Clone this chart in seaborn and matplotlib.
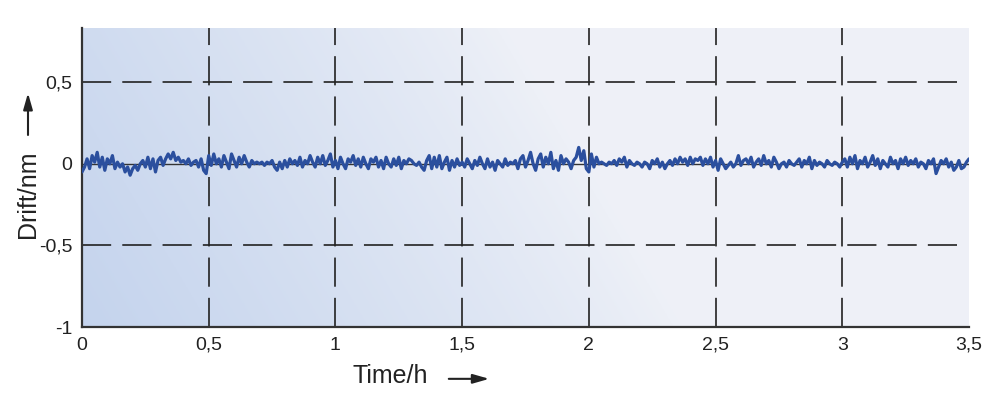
import numpy as np
import pandas as pd
import matplotlib
matplotlib.use('Agg')
import matplotlib.pyplot as plt
from matplotlib.ticker import MultipleLocator, FuncFormatter
import seaborn as sns

# Drift measurement, one reading every 0.01 h from 0 to 3.5 h (values in nm)
t_start = 0.0
t_end = 3.5

drift_0 = [-0.05, -0.02, 0.03, -0.03, 0.05, 0.01, 0.07, -0.02, 0.04, -0.04,
           0.03, 0.00, 0.05, -0.03, 0.01, -0.02, 0.00, -0.05, -0.02, -0.07,
           -0.03, -0.01, -0.04, 0.00, 0.02, -0.02, 0.04, -0.03, 0.03, -0.05,
           0.02, 0.04, -0.01, 0.03, 0.06, 0.03, 0.07, 0.02, 0.04, 0.01,
           0.02, 0.00, 0.03, -0.01, 0.01, 0.02, -0.02, 0.03, -0.04, -0.06]
drift_1 = [0.05, -0.01, 0.06, 0.00, 0.03, -0.02, 0.05, 0.01, -0.03, 0.06,
           0.02, -0.02, 0.04, 0.00, 0.05, 0.01, -0.02, 0.02, 0.00, 0.01,
           0.00, 0.01, -0.01, 0.01, 0.00, 0.02, -0.02, -0.04, 0.01, -0.03,
           0.02, -0.02, 0.03, 0.00, 0.02, -0.01, 0.04, -0.02, 0.02, 0.00,
           0.05, 0.01, -0.02, 0.04, 0.00, 0.05, -0.01, 0.02, 0.06, -0.02]
drift_2 = [0.02, -0.03, 0.04, 0.00, -0.03, 0.03, 0.01, 0.05, -0.01, 0.03,
           -0.02, 0.04, 0.00, -0.03, 0.03, 0.01, 0.04, -0.02, 0.02, -0.03,
           0.04, 0.00, -0.02, 0.03, -0.01, 0.04, -0.03, 0.02, 0.00, 0.03,
           0.02, 0.00, -0.01, 0.01, -0.02, -0.04, 0.02, 0.05, -0.03, 0.04,
           -0.02, 0.05, -0.03, 0.01, 0.04, -0.04, 0.02, -0.02, 0.03, -0.01]
drift_3 = [0.01, -0.02, 0.03, 0.00, -0.03, 0.02, -0.01, 0.04, 0.00, -0.03,
           0.03, -0.02, 0.01, -0.04, 0.02, 0.00, -0.02, 0.03, -0.01, 0.01,
           0.00, 0.02, -0.03, 0.03, 0.05, -0.02, 0.02, 0.07, 0.00, -0.04,
           0.03, 0.06, -0.02, 0.04, 0.00, 0.07, -0.03, 0.02, -0.04, 0.05,
           0.00, 0.03, 0.01, -0.03, 0.02, 0.04, 0.10, 0.02, 0.08, -0.03]
drift_4 = [-0.05, 0.06, -0.02, 0.04, 0.00, 0.01, 0.00, -0.01, 0.01, 0.00,
           0.02, -0.01, 0.03, 0.01, 0.04, -0.02, 0.02, 0.00, -0.01, 0.01,
           0.00, -0.02, 0.01, 0.00, -0.03, 0.02, 0.00, 0.03, -0.02, 0.01,
           -0.03, 0.00, 0.02, -0.01, 0.03, 0.00, 0.04, 0.01, 0.03, -0.01,
           0.04, 0.00, 0.03, 0.02, 0.04, -0.01, 0.03, 0.00, 0.04, -0.02]
drift_5 = [0.02, -0.04, 0.03, 0.00, -0.03, -0.01, 0.01, -0.02, 0.00, 0.05,
           -0.01, 0.02, 0.03, 0.00, 0.04, -0.02, 0.01, 0.03, -0.01, 0.05,
           0.00, 0.02, -0.02, 0.04, 0.01, -0.03, 0.00, 0.01, -0.02, 0.02,
           0.00, -0.01, 0.01, 0.03, -0.02, 0.02, 0.00, 0.04, -0.03, 0.02,
           -0.01, 0.01, 0.00, -0.02, 0.02, 0.00, -0.01, 0.01, 0.00, -0.02]
drift_6 = [0.01, 0.03, -0.02, 0.04, 0.00, 0.05, -0.03, 0.02, 0.00, 0.04,
           -0.02, 0.01, 0.05, -0.01, 0.03, -0.03, 0.02, 0.00, -0.02, 0.04,
           0.00, 0.02, -0.03, 0.03, 0.00, 0.04, -0.01, 0.02, 0.00, 0.03,
           -0.02, 0.01, 0.00, -0.03, 0.02, 0.00, 0.03, -0.06, -0.02, 0.02,
           0.00, 0.03, -0.02, 0.01, -0.04, -0.02, 0.02, -0.03, -0.02, 0.01, 0.03]

drift = drift_0 + drift_1 + drift_2 + drift_3 + drift_4 + drift_5 + drift_6
time_h = np.linspace(t_start, t_end, len(drift))
df = pd.DataFrame({'time': time_h, 'drift': drift})

x_major = [0.5, 1.0, 1.5, 2.0, 2.5, 3.0]
y_major = [-0.5, 0.5]

sns.set_style('white')
plt.rcParams['font.family'] = ['Liberation Sans', 'DejaVu Sans']
plt.rcParams['lines.scale_dashes'] = False

fig = plt.figure(figsize=(10, 4.2), dpi=100)
ax = fig.add_axes([0.082, 0.221, 0.887, 0.712])

# blue gradient background, darkest at bottom left
gx, gy = np.meshgrid(np.linspace(0, 1, 300), np.linspace(0, 1, 150))
w = np.clip(1 - (gx + 0.2 * gy) / 0.68, 0, 1) ** 0.85
dark = np.array([0.77, 0.83, 0.93])
light = np.array([0.935, 0.945, 0.97])
img = light + w[..., None] * (dark - light)
ax.imshow(img, extent=[0, 1, 0, 1], origin='lower', transform=ax.transAxes,
          aspect='auto', zorder=0)

# dashed grid
for xv in x_major:
    ax.axvline(xv, color='#222222', lw=1.2, ls=(0, (21, 8)), zorder=1)
for yv in y_major:
    ax.axhline(yv, xmax=0.988, color='#222222', lw=1.2, ls=(0, (21, 8)), zorder=1)
ax.axhline(0, color='#333333', lw=1.0, zorder=1)

sns.lineplot(data=df, x='time', y='drift', color='#2b4f9e', lw=2.3, ax=ax, zorder=3)

ax.set_xlim(0, 3.5)
ax.set_ylim(-1, 0.83)
ax.xaxis.set_major_locator(MultipleLocator(0.5))
ax.yaxis.set_major_locator(MultipleLocator(0.5))
ax.xaxis.set_minor_locator(MultipleLocator(0.25))
ax.yaxis.set_minor_locator(MultipleLocator(0.25))

comma = FuncFormatter(lambda v, p: ('%g' % v).replace('.', ','))
ax.xaxis.set_major_formatter(comma)
ax.yaxis.set_major_formatter(comma)

ax.tick_params(which='major', length=0, labelsize=14, colors='#222222')
ax.tick_params(axis='x', which='major', pad=7)
ax.tick_params(axis='y', which='major', pad=7)
ax.tick_params(axis='x', which='minor', direction='in', length=7, width=1.4, color='#333333')
ax.tick_params(axis='y', which='minor', direction='in', length=9.5, width=1.4, color='#333333')

for s in ['top', 'right']:
    ax.spines[s].set_visible(False)
for s in ['left', 'bottom']:
    ax.spines[s].set_color('#333333')
    ax.spines[s].set_linewidth(1.6)

ax.set_xlabel('')
ax.set_ylabel('')

# axis titles with arrows
fig.text(0.390, 0.105, 'Time/h', fontsize=18, ha='center', va='center', color='#222222')
fig.text(0.028, 0.538, 'Drift/nm', fontsize=18, rotation=90, ha='center', va='center',
         color='#222222')
arrow = dict(arrowstyle='-|>,head_length=0.7,head_width=0.2', color='#222222', lw=1.5,
             mutation_scale=14)
ax.annotate('', xy=(0.492, 0.098), xytext=(0.446, 0.098), xycoords='figure fraction',
            arrowprops=arrow)
ax.annotate('', xy=(0.028, 0.785), xytext=(0.028, 0.672), xycoords='figure fraction',
            arrowprops=arrow)

plt.savefig('out.png', dpi=100)
